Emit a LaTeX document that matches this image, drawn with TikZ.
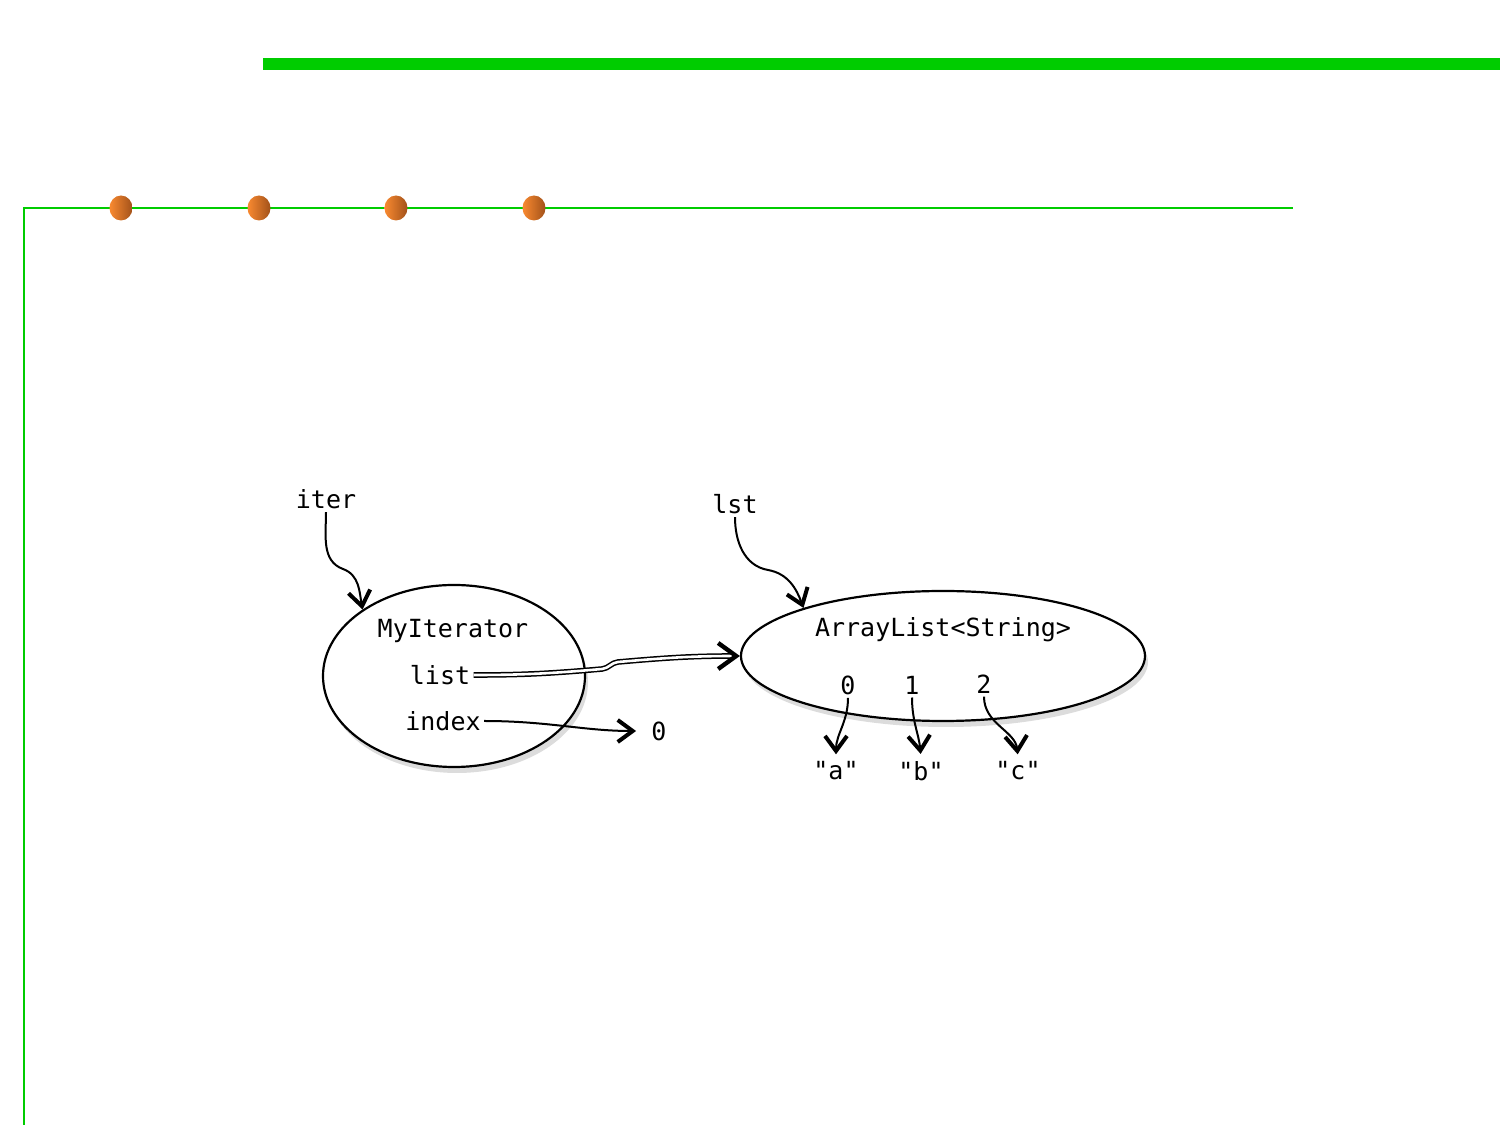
\documentclass[tikz,border=0pt]{standalone}
\usepackage{fontspec}
\setmonofont{DejaVu Sans Mono}
\usetikzlibrary{arrows.meta,shapes.geometric,shadows}
\definecolor{slidegreen}{HTML}{00CC00}
\definecolor{dotorange}{HTML}{F98A30}
\definecolor{dotbrown}{HTML}{A2511A}
\tikzset{
  objnode/.style={ellipse,draw=black,line width=1.1pt,fill=white,inner sep=0pt,drop shadow={shadow xshift=1.5pt,shadow yshift=-3pt,fill=black!30,opacity=0.45}},
  codetext/.style={font=\ttfamily\fontsize{12.5}{15}\selectfont,inner sep=1.5pt},
  refflow/.style={-{Straight Barb[length=7.5pt,width=11pt,line width=2pt]},line width=1pt,draw=black},
  fieldflow/.style={-{Straight Barb[length=9pt,width=13pt,line width=2.2pt]},draw=black,double=white,line width=0.75pt,double distance=1.3pt},
  slidedot/.style={ellipse,minimum width=11.5pt,minimum height=12.5pt,inner sep=0pt,left color=dotorange,right color=dotbrown,draw=none}
}

\begin{document}
\begin{tikzpicture}[x=0.5pt,y=0.5pt]
  \useasboundingbox (0,0) rectangle (1500,1125);
  % slide frame
  \fill[slidegreen] (263,1055) rectangle (1500,1067);
  \draw[slidegreen,line width=1pt] (24,0) -- (24,917) -- (1293,917);
  \foreach \x [count=\i] in {121,259,396,534}
    \node[slidedot] (dot\i) at (\x,917) {};

  % objects
  \node[objnode,minimum width=131pt,minimum height=91pt] (itobj) at (454,449) {};
  \node[objnode,minimum width=202pt,minimum height=65pt] (lstobj) at (943,469) {};

  \node[codetext] (iter) at (326,626) {iter};
  \node[codetext] (lst) at (735,621) {lst};
  \node[codetext] (itname) at (453,494) {MyIterator};
  \node[codetext] (listlbl) at (440,450) {list};
  \node[codetext] (idxlbl) at (443,404) {index};
  \node[codetext] (zero) at (659,394) {0};
  \node[codetext] (lstname) at (943,495) {ArrayList<String>};
  \node[codetext] (idx0) at (848,440) {0};
  \node[codetext] (idx1) at (912,440) {1};
  \node[codetext] (idx2) at (984,441) {2};
  \node[codetext] (stra) at (836,354) {"a"};
  \node[codetext] (strb) at (921,354) {"b"};
  \node[codetext] (strc) at (1018,354) {"c"};

  \coordinate (iterbend) at (343,556);
  \coordinate (lstbend) at (768,555);
  \coordinate (listkink) at (602,456);
  \coordinate (listkinkb) at (618,463);

  % references
  \draw[refflow] (iter.south) to[out=-90,in=160] (iterbend) to[out=-20,in=100] (itobj.144);
  \draw[refflow] (lst.south) to[out=-90,in=170] (lstbend) to[out=-10,in=110] (lstobj.161);
  \draw[fieldflow] (listlbl.east) to[out=0,in=185] (listkink) to[out=5,in=185] (listkinkb) to[out=5,in=180] (lstobj.west);
  \draw[refflow,shorten >=6pt] (idxlbl.east) to[out=0,in=180] (zero.west);
  \draw[refflow,shorten >=2pt] (idx0.south) to[out=-90,in=90] (stra.north);
  \draw[refflow,shorten >=2pt] (idx1.south) to[out=-90,in=95] (strb.north);
  \draw[refflow,shorten >=2pt] (idx2.south) to[out=-90,in=95] (strc.north);
\end{tikzpicture}
\end{document}
